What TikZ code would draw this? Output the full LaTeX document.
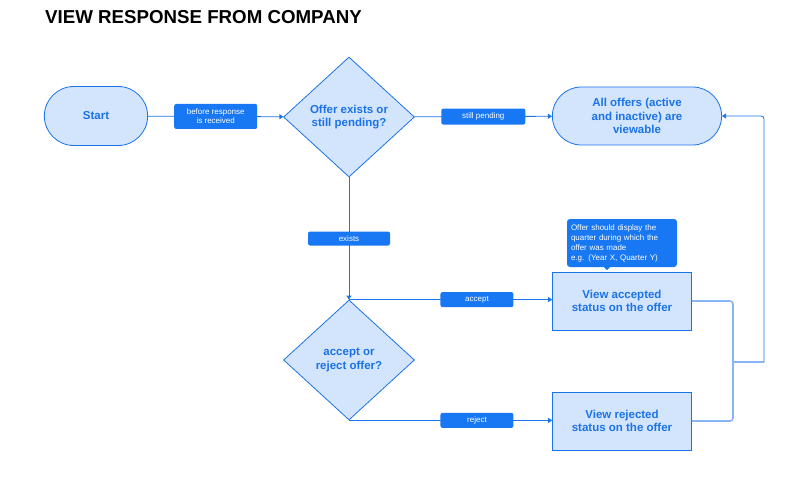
\documentclass[tikz,border=0pt]{standalone}
\usepackage{fontspec}
\setmainfont{Liberation Sans}
\usetikzlibrary{arrows.meta,positioning,shapes.geometric,shapes.misc,calc}
\definecolor{gblue}{HTML}{1A73E8}
\definecolor{gfill}{HTML}{D3E4FD}
\definecolor{glight}{HTML}{8AB4F8}
\definecolor{gtag}{HTML}{1877F2}

\begin{document}
\begin{tikzpicture}[x=1pt,y=-1pt,
    term/.style={rounded rectangle,draw=gblue,fill=gfill,line width=0.8pt,
      text=gblue,font=\fontsize{11.5}{13.5}\selectfont\bfseries,align=center},
    decide/.style={diamond,draw=gblue,fill=gfill,line width=0.8pt,
      text=gblue,font=\fontsize{11.5}{13.5}\selectfont\bfseries,align=center,
      minimum width=131pt,minimum height=120pt,inner sep=0pt},
    stepbox/.style={rectangle,draw=gblue,fill=gfill,line width=0.8pt,
      text=gblue,font=\fontsize{11.5}{13.5}\selectfont\bfseries,align=center,
      minimum width=139pt,minimum height=58pt},
    tag/.style={rectangle,rounded corners=2pt,fill=gtag,text=white,
      font=\fontsize{8}{9}\selectfont,align=center,minimum height=15pt,inner sep=1pt},
    flow/.style={gblue,line width=0.8pt,-{Triangle[width=5pt,length=4pt]}},
    back/.style={glight,line width=1.6pt,rounded corners=3pt}]

  \useasboundingbox (0,0) rectangle (800,489);

  % ---- Title ---------------------------------------------------
  \node[anchor=base west,font=\fontsize{18.7}{20}\selectfont\bfseries,inner sep=0pt]
    (title) at (45,24) {VIEW RESPONSE FROM COMPANY};

  % ---- Nodes ---------------------------------------------------
  \node[term,minimum width=110pt,minimum height=59pt] (start) at (96,116) {Start};
  \node[decide] (exists) at (349,117) {Offer exists or\\still pending?};
  \node[term,minimum width=176pt,minimum height=58pt] (all) at (637,116)
    {All offers (active\\and inactive) are\\viewable};
  \node[decide] (choice) at (349,360) {accept or\\reject offer?};
  \node[stepbox] (accepted) at (622,301) {View accepted\\status on the offer};
  \node[stepbox] (rejected) at (622,421) {View rejected\\status on the offer};

  % Note above the accepted box
  \node[rectangle,rounded corners=3pt,fill=gtag,text=white,align=left,
    font=\fontsize{8}{10}\selectfont,text width=102pt,minimum height=48pt,
    inner xsep=4pt] (note) at (622,243)
    {Offer should display the\\quarter during which the\\offer was made\\e.g. (Year X, Quarter Y)};
  \fill[gtag] ($(note.south)+(-18,0)$) -- ($(note.south)+(-15,3)$)
    -- ($(note.south)+(-12,0)$) -- cycle;

  % ---- Connectors ----------------------------------------------
  \draw[flow] (start) -- node[tag,minimum width=83pt,minimum height=25pt]
    (lblBefore) {before response\\is received} (exists);
  \draw[flow] (exists) -- node[tag,minimum width=84pt,minimum height=16pt]
    (lblPending) {still pending} (all);
  \draw[flow] (exists.south) -- node[tag,minimum width=82pt,minimum height=14pt]
    (lblExists) {exists} (choice.north);
  \draw[flow] (choice.north) -- node[tag,pos=0.63,minimum width=73pt]
    (lblAccept) {accept} (accepted.west |- choice.north);
  \draw[flow] (choice.south) -- node[tag,pos=0.63,minimum width=73pt]
    (lblReject) {reject} (rejected.west |- choice.south);

  % Return to the overview
  \coordinate (join) at (733,362);
  \coordinate (turn) at (764,362);
  \draw[back] (accepted.east) -| (join);
  \draw[back] (rejected.east) -| (join);
  \draw[back] (join) -- (turn);
  \draw[flow,rounded corners=3pt] (turn) |- (all.east);

\end{tikzpicture}
\end{document}
